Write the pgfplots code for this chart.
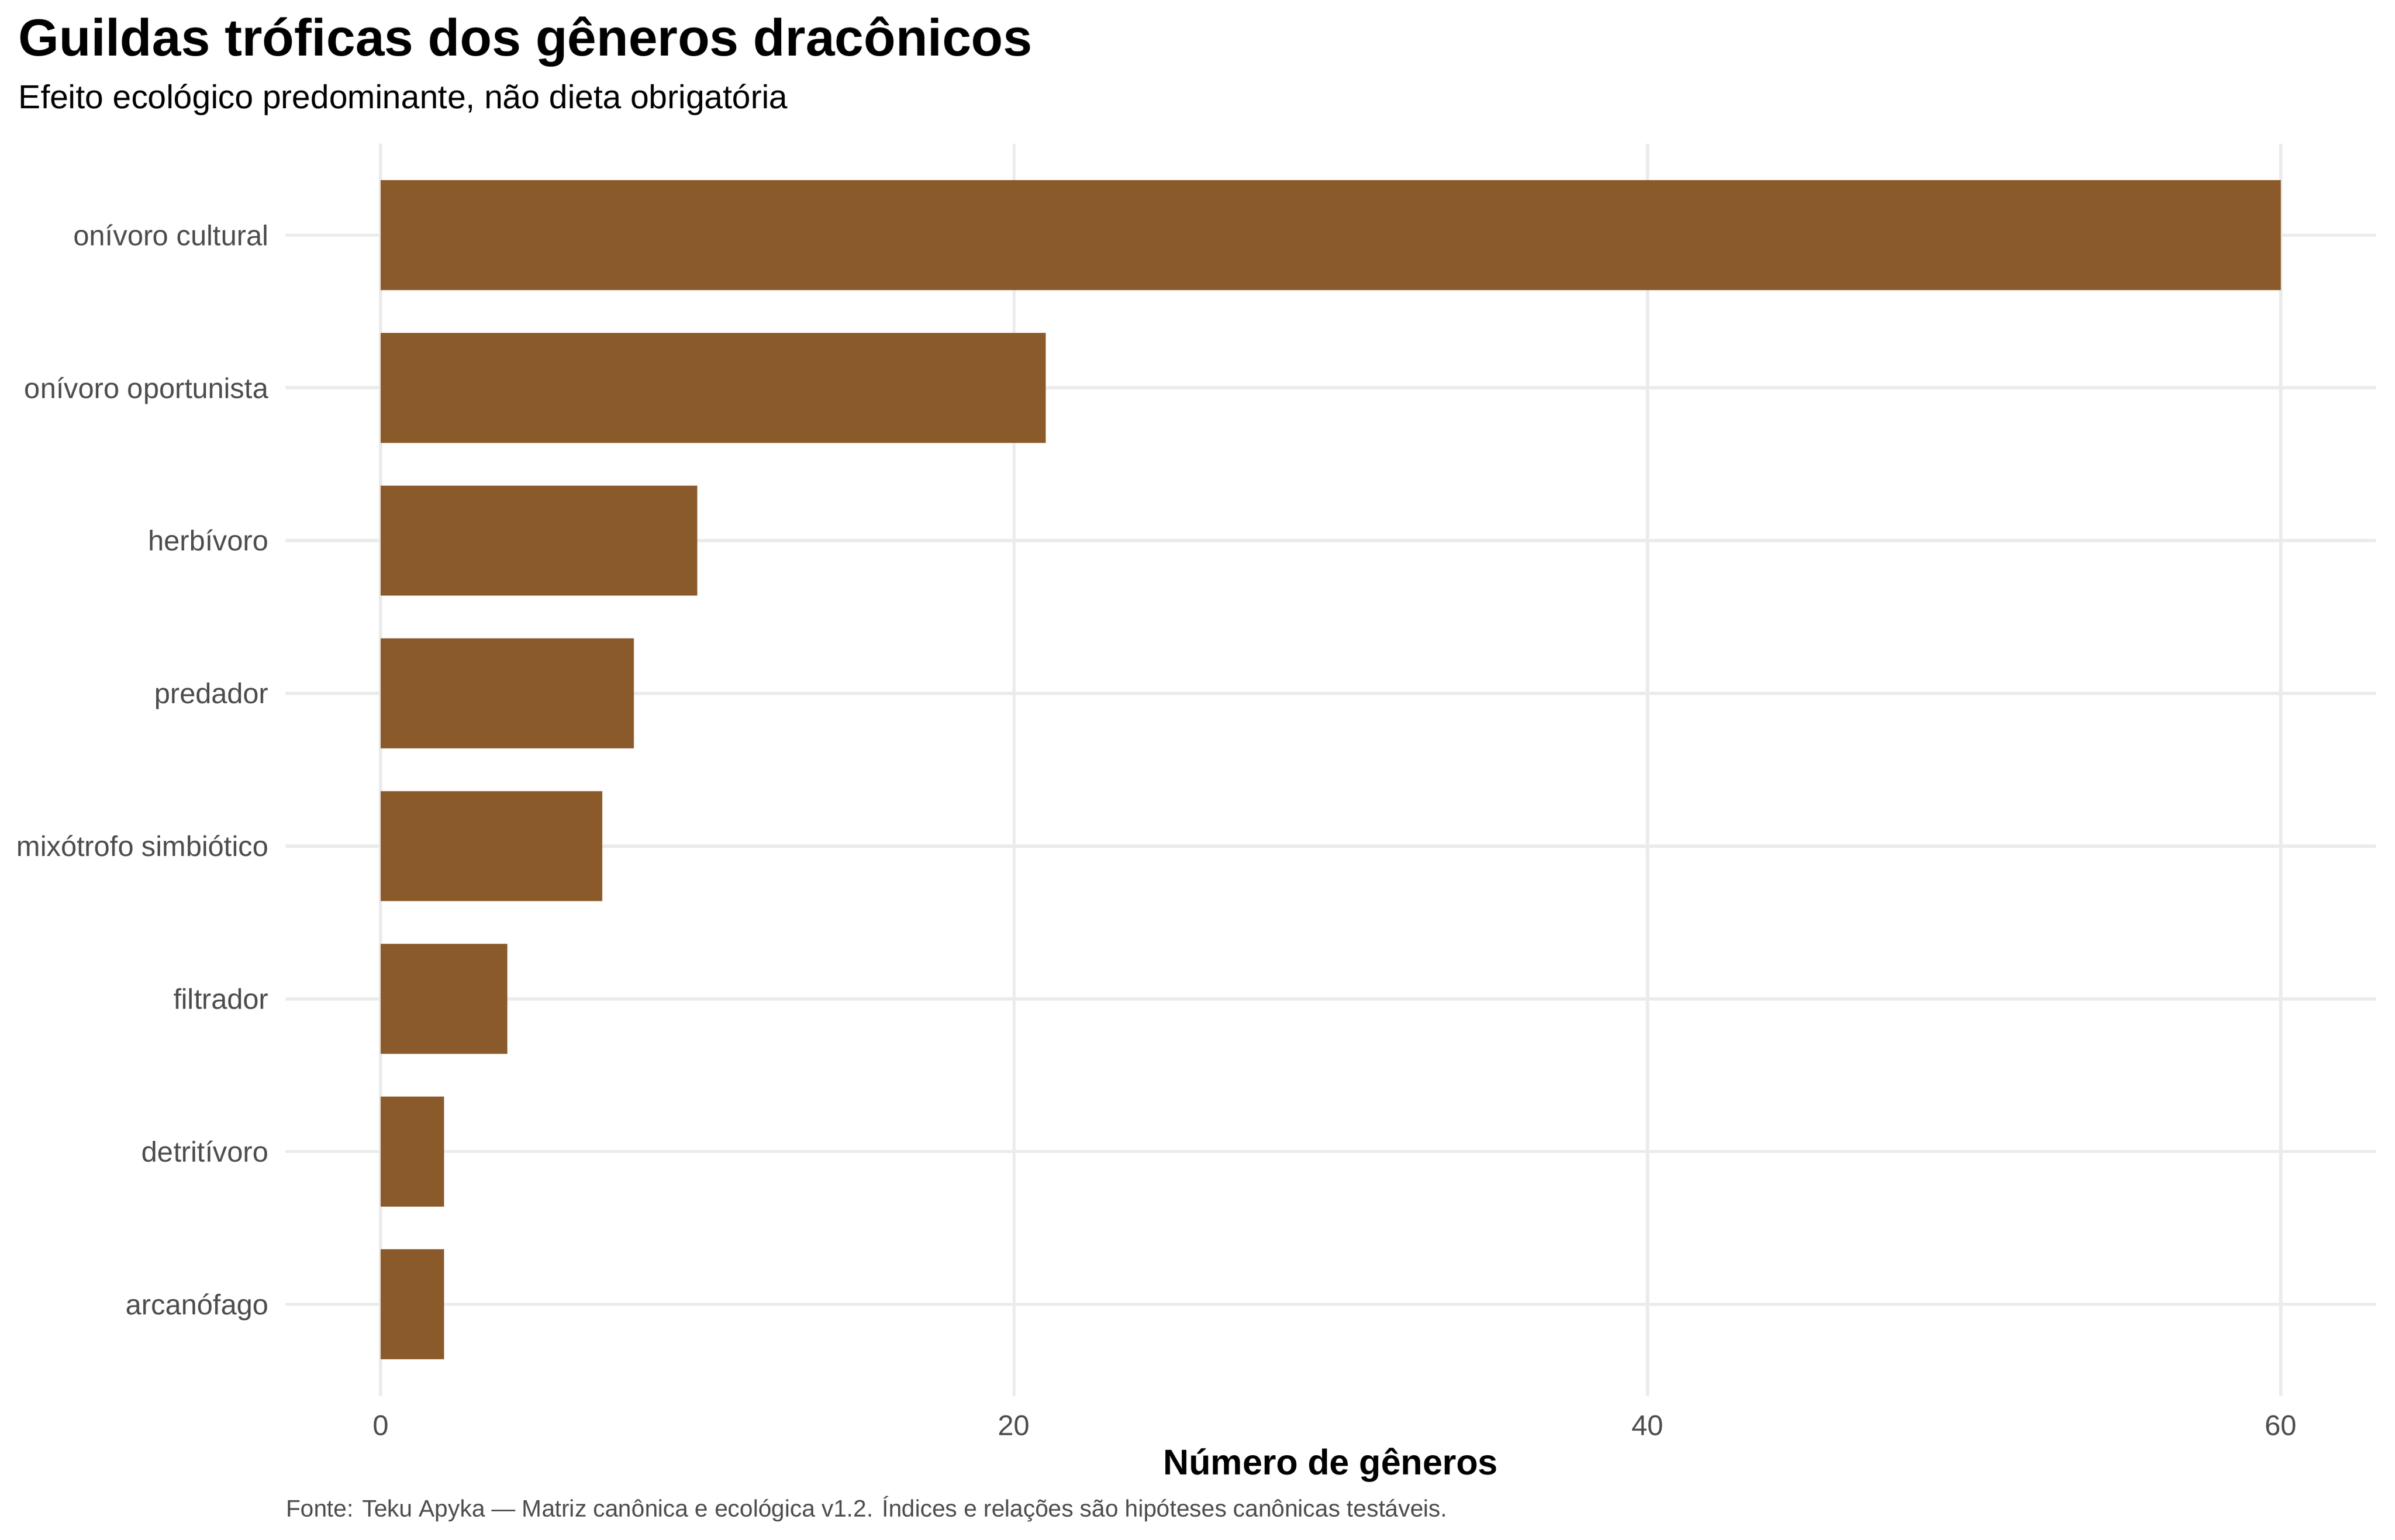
\documentclass[border=0pt]{standalone}
\usepackage{fontspec}
\setmainfont{Liberation Sans}
\usepackage{pgfplots}
\pgfplotsset{compat=1.18}
\definecolor{barbrown}{HTML}{8B5A2B}
\definecolor{gridgray}{HTML}{EBEBEB}
\definecolor{labgray}{HTML}{4D4D4D}

\begin{document}
\begin{tikzpicture}
  \begin{axis}[
      at={(0pt,0pt)}, anchor=south west,
      scale only axis,
      width=879.7pt, height=527.1pt,
      xmin=-3, xmax=63,
      ymin=0.4, ymax=8.6,
      axis line style={draw=none},
      tick style={draw=none},
      major tick length=0pt,
      grid=major,
      major grid style={gridgray, line width=1.36pt},
      xtick={0,20,40,60},
      ytick={1,...,8},
      yticklabels={arcanófago, detritívoro, filtrador, mixótrofo simbiótico,
                   predador, herbívoro, onívoro oportunista, onívoro cultural},
      /pgf/number format/assume math mode=true,
      tick label style={font=\fontsize{12}{14}\selectfont, text=labgray, inner sep=0pt},
      xticklabel style={anchor=base, yshift=-16.6pt},
      yticklabel style={anchor=base east, xshift=-7pt, yshift=-4.3pt},
    ]
    % guildas, de baixo para cima
    \addplot[xbar, bar width=0.72, fill=barbrown, draw=none]
      coordinates {(2,1)(2,2)(4,3)(7,4)(8,5)(10,6)(21,7)(60,8)};
  \end{axis}

  \node[anchor=base west, inner sep=0pt, font=\fontsize{22}{26}\selectfont\bfseries]
    at (-112.6pt,564.1pt) {Guildas tróficas dos gêneros dracônicos};
  \node[anchor=base west, inner sep=0pt, font=\fontsize{14}{17}\selectfont]
    at (-112.6pt,541.9pt) {Efeito ecológico predominante, não dieta obrigatória};
  \node[anchor=base, inner sep=0pt, font=\fontsize{15}{18}\selectfont\bfseries]
    at (439.85pt,-33.1pt) {Número de gêneros};
  \node[anchor=base west, inner sep=0pt, font=\fontsize{10}{12}\selectfont, text=labgray]
    at (0pt,-50.8pt) {Fonte: Teku Apyka — Matriz canônica e ecológica v1.2. Índices e relações são hipóteses canônicas testáveis.};

  \pgfresetboundingbox
  \useasboundingbox (-120.2pt,-60.5pt) rectangle (887.8pt,587.5pt);
\end{tikzpicture}
\end{document}
